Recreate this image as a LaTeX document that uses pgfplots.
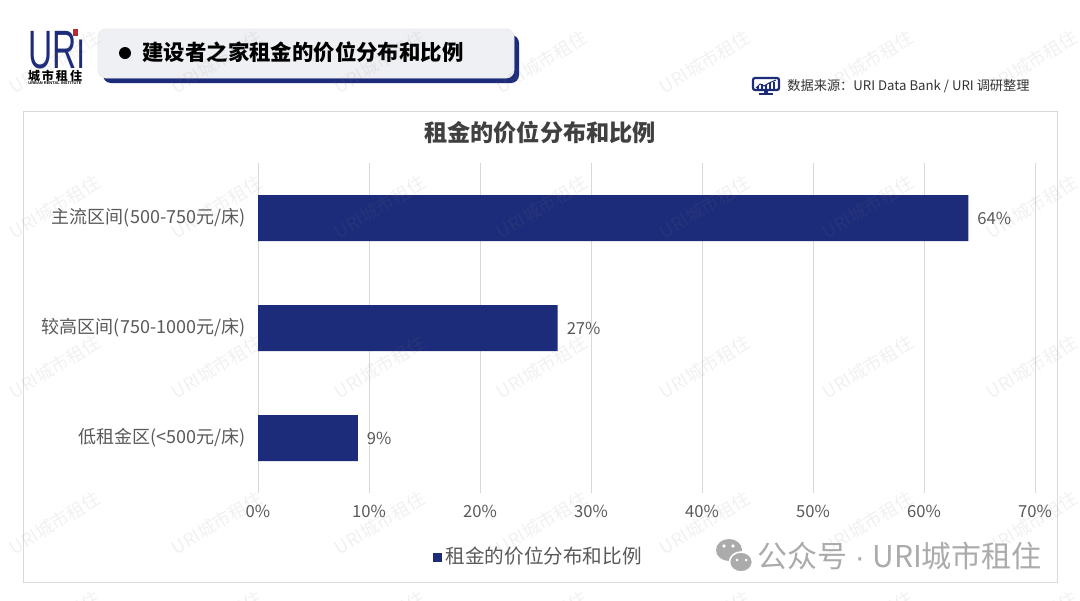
\documentclass[border=0pt]{standalone}
\usepackage{pgfplots}
\pgfplotsset{compat=1.18}
\usepackage{fontspec}
\setmainfont{Noto Sans CJK SC}
\newfontfamily\logofont{Liberation Sans}
\definecolor{navy}{HTML}{1C2B7A}
\definecolor{txt}{HTML}{595959}
\definecolor{ttl}{HTML}{404040}
\definecolor{grd}{HTML}{D9D9D9}
\definecolor{hdr}{HTML}{EFF0F3}
\definecolor{wmg}{HTML}{ABABAB}
\definecolor{logored}{HTML}{C0282D}
\begin{document}
\begin{tikzpicture}[x=0.5pt,y=-0.5pt]
\useasboundingbox (0,0) rectangle (1080,600);
\fill[white] (0,0) rectangle (1080,600);
% chart frame
\draw[grd, line width=0.5pt, fill=white] (23,111) rectangle (1057,582);
% header box
\fill[navy, rounded corners=4pt] (103,35) rectangle (519,83);
\filldraw[fill=hdr, draw=black!8, line width=0.4pt, rounded corners=4pt] (98,29) rectangle (514,78);
\fill[black] (125,53) circle (6);
\node[anchor=west, inner sep=0pt, font=\bfseries\fontsize{10.7}{12}\selectfont] at (142,52) {建设者之家租金的价位分布和比例};
% logo
\node[anchor=south west, inner sep=0pt, navy, xscale=0.62, font=\logofont\fontsize{27}{27}\selectfont] at (28,69) {URı};
\fill[logored] (72.5,29) rectangle (78,36);
\node[inner sep=0pt, font=\bfseries\fontsize{6}{6}\selectfont] at (55,76) {城\,市\,租\,住};
\node[inner sep=0pt, font=\logofont\bfseries\fontsize{2}{2}\selectfont] at (55,83.5) {URBAN RENTAL INSTITUTE};
% source icon
\draw[navy, line width=1.1pt, rounded corners=1pt] (753,78) rectangle (779,90);
\fill[navy] (764,90) rectangle (768,93);
\fill[navy] (759,93) rectangle (773,95);
\draw[navy, line width=0.5pt] (756,88) -- (760,84) -- (764,86) -- (769,83) -- (776,80);
\foreach \bx/\bh in {757/3,761/5,765/4,769/6,773/7} {\fill[navy] (\bx,89) rectangle (\bx+1.6,89-\bh);}
\node[anchor=west, inner sep=0pt, font=\fontsize{6.6}{7}\selectfont, text=black!80] at (787,86) {数据来源：URI Data Bank / URI 调研整理};
% chart title
\node[font=\bfseries\fontsize{11.6}{13}\selectfont, text=ttl] at (540,133) {租金的价位分布和比例};
\begin{axis}[
  at={(129pt,-246.5pt)}, anchor=south west,
  width=388.5pt, height=165pt, scale only axis,
  xbar, bar width=23pt,
  xmin=0, xmax=70, ymin=-0.5, ymax=2.5,
  xtick={0,10,20,30,40,50,60,70},
  xticklabels={0\%,10\%,20\%,30\%,40\%,50\%,60\%,70\%},
  ytick={0,1,2},
  yticklabels={低租金区(<500元/床),较高区间(750-1000元/床),主流区间(500-750元/床)},
  axis line style={draw=none},
  tick style={draw=none},
  xmajorgrids, grid style={grd, line width=0.5pt},
  x tick label style={font=\fontsize{8.3}{10}\selectfont, text=txt, yshift=-2.5pt},
  y tick label style={font=\fontsize{9}{10}\selectfont, text=txt, xshift=1.5pt},
  /pgf/number format/assume math mode=true,
  nodes near coords={\pgfmathprintnumber{\pgfplotspointmeta}\%},
  every node near coord/.append style={font=\fontsize{8.3}{10}\selectfont, text=txt, xshift=1pt},
  legend style={at={(0.362,-0.194)}, anchor=center, draw=none, fill=none,
    font=\fontsize{9.8}{11}\selectfont, text=txt},
  legend image code/.code={\fill[navy] (0pt,-2.25pt) rectangle (4.5pt,2.25pt);},
]
\addplot[fill=navy, draw=none] coordinates {(9,0) (27,1) (64,2)};
\addlegendentry{租金的价位分布和比例}
\end{axis}
% watermarks
\begin{scope}
\clip (0,0) rectangle (1080,600);
\foreach \cx in {55,217,380,542,705,868,1032} {
  \foreach \cy in {62,207,367,523,622} {
    \node[rotate=31, text=gray, opacity=0.11, font=\fontsize{9}{10}\selectfont] at (\cx,\cy) {URI城市租住};
  }
}
\end{scope}
% wechat watermark
\fill[wmg] (729,550) ellipse (13 and 11);
\filldraw[fill=wmg, draw=white, line width=0.8pt] (741,562) ellipse (11.5 and 10);
\fill[white] (724,546) circle (1.8); \fill[white] (733,546) circle (1.8);
\fill[white] (737,560) circle (1.5); \fill[white] (746,560) circle (1.5);
\node[anchor=west, inner sep=0pt, text=wmg, font=\fontsize{15}{16}\selectfont] at (757,556) {公众号\hspace{0.25em}{\logofont·}\hspace{0.25em}URI城市租住};
\end{tikzpicture}
\end{document}
